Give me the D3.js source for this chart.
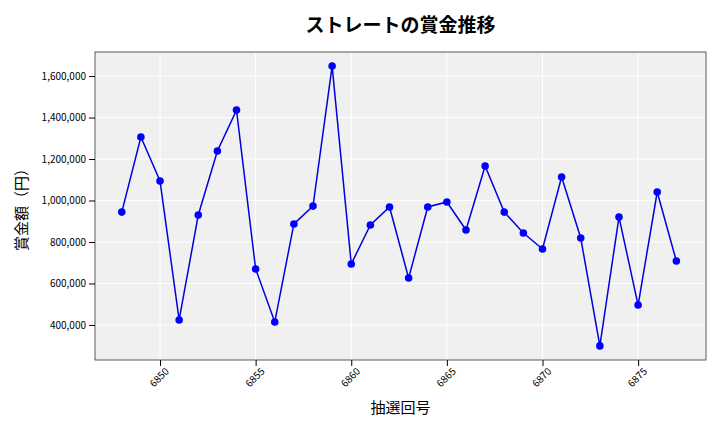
<!DOCTYPE html>
<html><head><meta charset="utf-8">
<script src="https://cdn.jsdelivr.net/npm/d3@7"></script>
<style>body{margin:0;background:#fff}text{font-family:"Noto Sans CJK JP","DejaVu Sans",sans-serif}</style>
</head><body>
<script>
// data
const rounds = d3.range(6848, 6878);
const prizes = [944000,1306000,1094000,424000,930000,1239000,1436000,670000,414000,887000,
  973000,1648000,694000,882000,969000,626000,969000,993000,858000,1166000,
  944000,843000,766000,1113000,819000,299000,920000,496000,1041000,708000];
const xTicks = [6850,6855,6860,6865,6870,6875];
const yTicks = [400000,600000,800000,1000000,1200000,1400000,1600000];

const dims = {width:720, height:432};
const m = {left:95, right:14, top:52, bottom:72};
const w = dims.width - m.left - m.right, h = dims.height - m.top - m.bottom;

const svg = d3.select("body").append("svg").attr("width",dims.width).attr("height",dims.height);
const g = svg.append("g").attr("transform",`translate(${m.left},${m.top})`);

const x = d3.scaleLinear().domain([6846.6,6878.55]).range([0,w]);
const y = d3.scaleLinear().domain([231000,1716000]).range([h,0]);

g.append("rect").attr("width",w).attr("height",h).attr("fill","#f0f0f0");
g.selectAll(".gx").data(xTicks).join("line").attr("x1",d=>x(d)).attr("x2",d=>x(d)).attr("y1",0).attr("y2",h).attr("stroke","#fff");
g.selectAll(".gy").data(yTicks).join("line").attr("y1",d=>y(d)).attr("y2",d=>y(d)).attr("x1",0).attr("x2",w).attr("stroke","#fff");
g.append("rect").attr("width",w).attr("height",h).attr("fill","none").attr("stroke","#333").attr("stroke-width",0.8);

const xa = g.append("g").attr("transform",`translate(0,${h})`).call(d3.axisBottom(x).tickValues(xTicks).tickFormat(d3.format("d")).tickSizeOuter(0));
xa.selectAll("text").attr("transform","rotate(-45)").attr("text-anchor","end").attr("dx","-0.2em").attr("dy","0.6em").style("font-size","10px");
const ya = g.append("g").call(d3.axisLeft(y).tickValues(yTicks).tickFormat(d3.format(",")).tickSizeOuter(0));
ya.selectAll("text").style("font-size","10px");
g.selectAll(".domain").remove();

g.append("path").datum(prizes).attr("fill","none").attr("stroke","#0000dd").attr("stroke-width",1.5)
  .attr("d",d3.line().x((d,i)=>x(rounds[i])).y(d=>y(d)));
g.selectAll("circle").data(prizes).join("circle").attr("cx",(d,i)=>x(rounds[i])).attr("cy",d=>y(d)).attr("r",3.8).attr("fill","#0000ff");

svg.append("text").attr("x",m.left+w/2).attr("y",32).attr("text-anchor","middle").style("font-size","19px").style("font-weight","bold").text("ストレートの賞金推移");
svg.append("text").attr("x",m.left+w/2).attr("y",413).attr("text-anchor","middle").style("font-size","15px").text("抽選回号");
svg.append("text").attr("transform",`translate(27,${m.top+h/2}) rotate(-90)`).attr("text-anchor","middle").style("font-size","15px").text("賞金額（円）");
</script>
</body></html>
